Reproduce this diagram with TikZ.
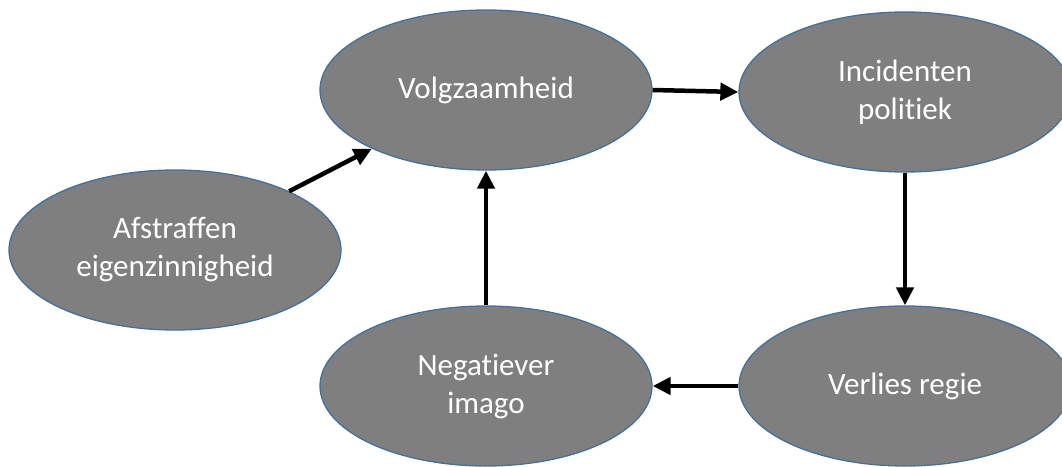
\documentclass[tikz,border=0pt]{standalone}
\usepackage{fontspec}
\setmainfont[Ligatures=NoCommon]{Carlito}
\usetikzlibrary{arrows.meta,shapes.geometric}
\definecolor{bubblefill}{HTML}{7F7F7F}
\definecolor{bubbleline}{HTML}{41719C}
\tikzset{
  bubble/.style={ellipse, fill=bubblefill, draw=bubbleline, line width=1.3pt,
    minimum width=332pt, minimum height=160pt, inner sep=0pt, align=center,
    text=white, font=\fontsize{31}{38}\selectfont},
  link/.style={line width=4.5pt, -{Triangle[length=18pt,width=17pt]}}
}
\begin{document}
\begin{tikzpicture}[x=1pt,y=-1pt]
\useasboundingbox (0,0) rectangle (1062,466);
\node[bubble] (v) at (486,90) {Volgzaamheid};
\node[bubble] (i) at (905,92) {Incidenten\\politiek};
\node[bubble] (a) at (175,250) {Afstraffen\\eigenzinnigheid};
\node[bubble] (n) at (486,386) {Negatiever\\imago};
\node[bubble] (r) at (905,386) {Verlies regie};
\draw[link] (v.east) -- (i.west);
\draw[link] (i.south) -- (r.north);
\draw[link] (r.west) -- (n.east);
\draw[link] (n.north) -- (v.south);
\draw[link] (a) -- (v);
\end{tikzpicture}
\end{document}
